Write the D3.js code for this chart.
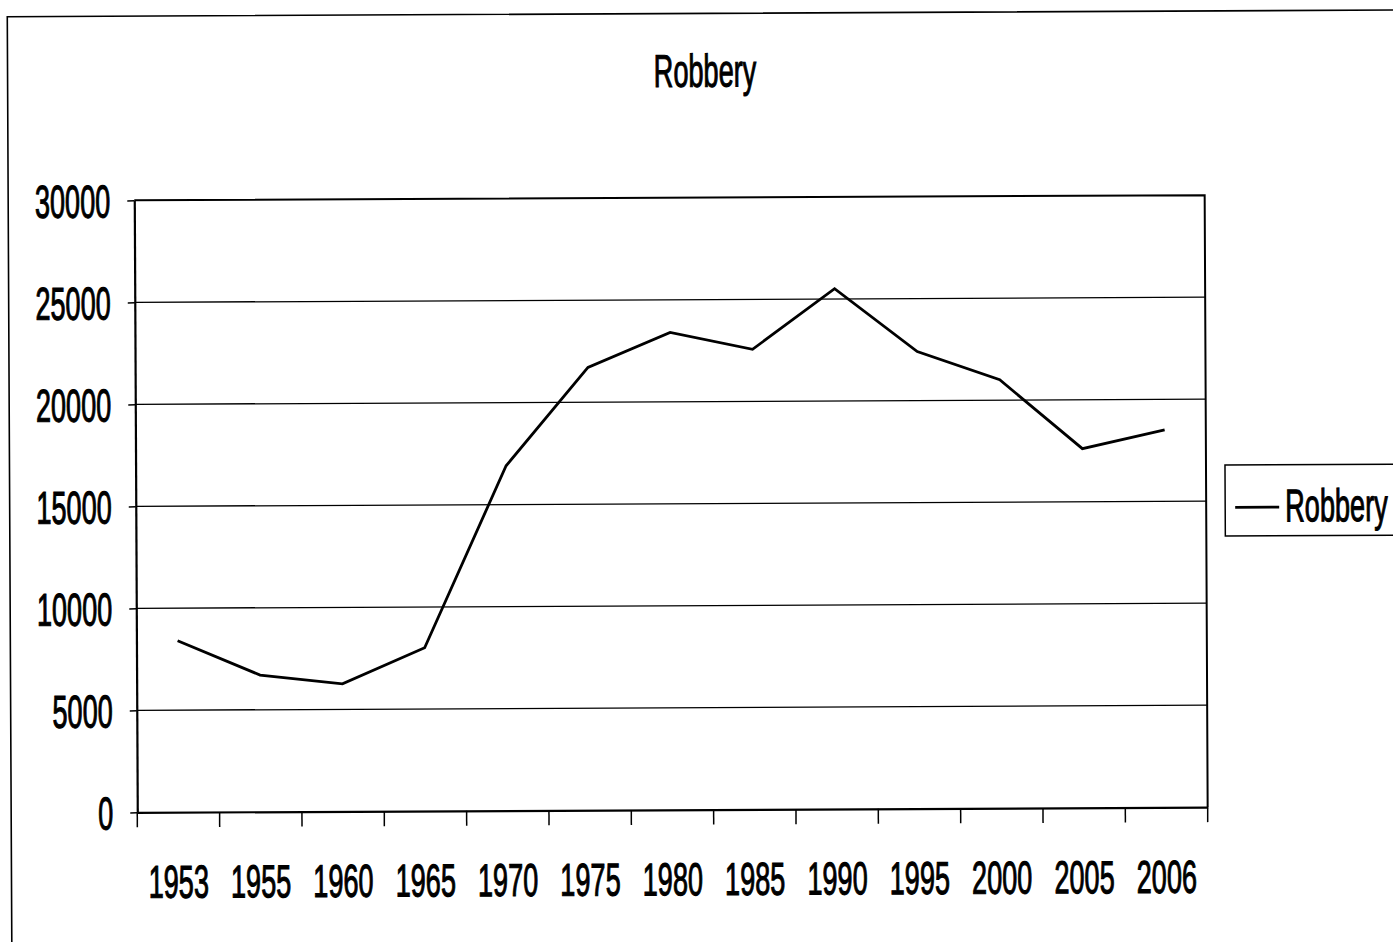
<!DOCTYPE html>
<html>
<head>
<meta charset="utf-8">
<script src="https://cdn.jsdelivr.net/npm/d3@7"></script>
<style>
  html, body { margin: 0; padding: 0; background: #fff; }
  svg { display: block; }
  text { font-family: "Liberation Sans", Arial, sans-serif; fill: #000; stroke: #000; stroke-width: 1.1px; }
</style>
</head>
<body>
<svg id="chart" width="1393" height="942"></svg>
<script>
// Annual robbery counts
const categories = ["1953", "1955", "1960", "1965", "1970", "1975", "1980",
                    "1985", "1990", "1995", "2000", "2005", "2006"];
const robbery = [8400, 6700, 6250, 8000, 16900, 21700, 23400,
                 22550, 25500, 22400, 21000, 17600, 18500];
const yTickValues = [0, 5000, 10000, 15000, 20000, 25000, 30000];
const seriesName = "Robbery";
const chartTitle = "Robbery";

const W = 1393, H = 942;
const plot = { left: 135.6, right: 1206, top: 197.6, bottom: 809.6 };
const FONT = 46, SX = 0.59;   // narrow, tall lettering

const svg = d3.select("#chart");
svg.append("rect").attr("width", W).attr("height", H).attr("fill", "#fff");

// whole sheet sits slightly askew
const root = svg.append("g").attr("transform", "rotate(-0.28, 700, 470)");

// outer chart frame (runs off the right and bottom edges)
root.append("rect")
  .attr("x", 9.5).attr("y", 13.4)
  .attr("width", W + 40).attr("height", H + 40)
  .attr("fill", "none").attr("stroke", "#000").attr("stroke-width", 1.6);

const x = d3.scaleBand().domain(categories).range([plot.left, plot.right])
  .paddingInner(0).paddingOuter(0);
const y = d3.scaleLinear().domain([0, 30000]).range([plot.bottom, plot.top]);

// title
root.append("text")
  .attr("transform", `translate(707,86.7) scale(${SX},1)`)
  .attr("text-anchor", "middle")
  .attr("font-size", FONT)
  .text(chartTitle);

// horizontal gridlines
root.append("g").selectAll("line")
  .data(yTickValues.filter(v => v > 0 && v < 30000))
  .join("line")
  .attr("x1", plot.left).attr("x2", plot.right)
  .attr("y1", d => y(d)).attr("y2", d => y(d))
  .attr("stroke", "#000").attr("stroke-width", 1.3);

// plot border (top and right)
root.append("path")
  .attr("d", `M${plot.left},${plot.top}H${plot.right}V${plot.bottom}`)
  .attr("fill", "none").attr("stroke", "#000").attr("stroke-width", 2);

// y axis
const yAxis = root.append("g")
  .attr("transform", `translate(${plot.left},0)`)
  .call(d3.axisLeft(y).tickValues(yTickValues).tickSize(7).tickSizeOuter(0).tickFormat(d3.format("d")));
yAxis.select(".domain").attr("stroke", "#000").attr("stroke-width", 2.2);
yAxis.selectAll(".tick line").attr("stroke", "#000").attr("stroke-width", 1.5);
yAxis.selectAll(".tick text")
  .attr("x", null).attr("dy", null)
  .attr("transform", `translate(-24,16.5) scale(${SX},1)`)
  .attr("text-anchor", "end")
  .attr("font-size", FONT)
  .attr("font-family", null)
  .attr("fill", "#000");

// x axis: labels centred in each category, ticks on category boundaries
const xAxis = root.append("g")
  .attr("transform", `translate(0,${plot.bottom})`)
  .call(d3.axisBottom(x).tickSize(0).tickSizeOuter(0));
xAxis.select(".domain").attr("stroke", "#000").attr("stroke-width", 2.2);
xAxis.selectAll(".tick text")
  .attr("y", null).attr("dy", null)
  .attr("transform", `translate(0,85.5) scale(${SX},1)`)
  .attr("text-anchor", "middle")
  .attr("font-size", FONT)
  .attr("font-family", null)
  .attr("fill", "#000");

const boundaries = categories.map(c => x(c)).concat([x(categories[categories.length - 1]) + x.bandwidth()]);
xAxis.append("g").selectAll("line")
  .data(boundaries)
  .join("line")
  .attr("x1", d => d).attr("x2", d => d)
  .attr("y1", 0).attr("y2", 15)
  .attr("stroke", "#000").attr("stroke-width", 1.5);

// series line
const line = d3.line()
  .x((d, i) => x(categories[i]) + x.bandwidth() / 2)
  .y(d => y(d));
root.append("path")
  .datum(robbery)
  .attr("d", line)
  .attr("fill", "none")
  .attr("stroke", "#000")
  .attr("stroke-width", 2.8)
  .attr("stroke-linejoin", "miter");

// legend
const lg = root.append("g");
lg.append("rect")
  .attr("x", 1225).attr("y", 467.6)
  .attr("width", 200).attr("height", 71)
  .attr("fill", "#fff").attr("stroke", "#000").attr("stroke-width", 1.5);
lg.append("line")
  .attr("x1", 1235).attr("x2", 1279)
  .attr("y1", 510).attr("y2", 510)
  .attr("stroke", "#000").attr("stroke-width", 2.8);
lg.append("text")
  .attr("transform", `translate(1285,524.3) scale(${SX},1)`)
  .attr("font-size", FONT)
  .text(seriesName);
</script>
</body>
</html>
